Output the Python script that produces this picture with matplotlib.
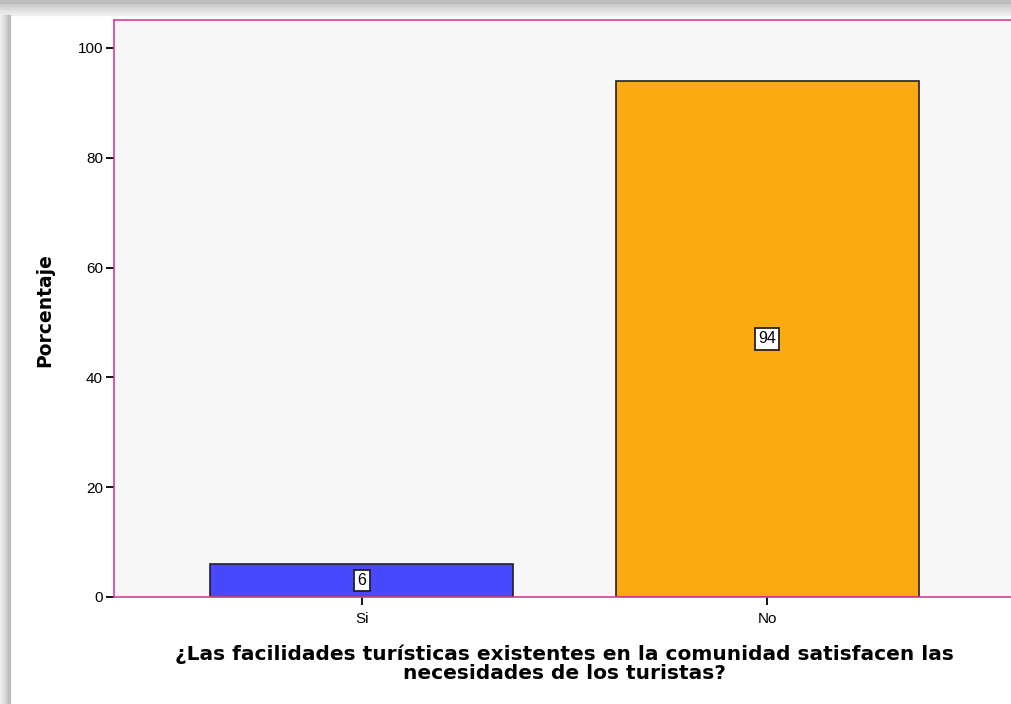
import matplotlib.pyplot as plt
from matplotlib.patches import Rectangle

categorias = ["Si", "No"]
porcentajes = [6, 94]
etiquetas = ["6", "94"]
colores = ["#4848fc", "#fbaa12"]

fig = plt.figure(figsize=(10.12, 7.04), dpi=100)
fig.patch.set_facecolor("white")

# sombra gris arriba y a la izquierda
grises = ["#eeeeee", "#e4e4e4", "#d9d9d9", "#cdcdcd", "#bdbdbd"]
for i, g in enumerate(grises):
    fig.patches.append(Rectangle((0, 1 - (15 - i * 3) / 704), 1, 3 / 704,
                                 transform=fig.transFigure, color=g, zorder=-5))
    fig.patches.append(Rectangle((i * 2 / 1012, 0), 2 / 1012, 1 - 15 / 704,
                                 transform=fig.transFigure, color=g, zorder=-5))

ax = fig.add_axes([114 / 1012, 107 / 704, 901 / 1012, 577 / 704])
ax.set_facecolor("#f7f7f7")

x = list(range(len(categorias)))
ax.bar(x, porcentajes, width=0.748, color=colores, edgecolor="#222222", linewidth=1.2, zorder=2)
for xi, v, t in zip(x, porcentajes, etiquetas):
    ax.text(xi, v / 2, t, ha="center", va="center", fontsize=11.5, family="Liberation Sans",
            bbox=dict(boxstyle="square,pad=0.2", facecolor="white", edgecolor="#222222", linewidth=1.3),
            zorder=3)

ax.set_xlim(-0.612, 1.612)
ax.set_ylim(0, 105.1)
ax.set_yticks([0, 20, 40, 60, 80, 100])
ax.set_xticks(x)
ax.set_xticklabels(categorias)
ax.tick_params(axis="both", direction="out", length=6, width=1.3, color="black",
               labelsize=11, pad=2)
ax.tick_params(axis="x", pad=5)
for lab in ax.get_xticklabels() + ax.get_yticklabels():
    lab.set_family("Liberation Sans")
for s in ax.spines.values():
    s.set_color("#d83c96")
    s.set_linewidth(1.2)

ax.set_ylabel("Porcentaje", fontsize=13.5, fontweight="bold")
ax.yaxis.set_label_coords(-(114 - 54) / 901, (597 - 310) / 577)
ax.set_xlabel("¿Las facilidades turísticas existentes en la comunidad satisfacen las\nnecesidades de los turistas?",
              fontsize=14.5, fontweight="bold", linespacing=0.95)
ax.xaxis.set_label_coords((564 - 114) / 901, -(645 - 597) / 577)

fig.savefig("out.png", dpi=100)
